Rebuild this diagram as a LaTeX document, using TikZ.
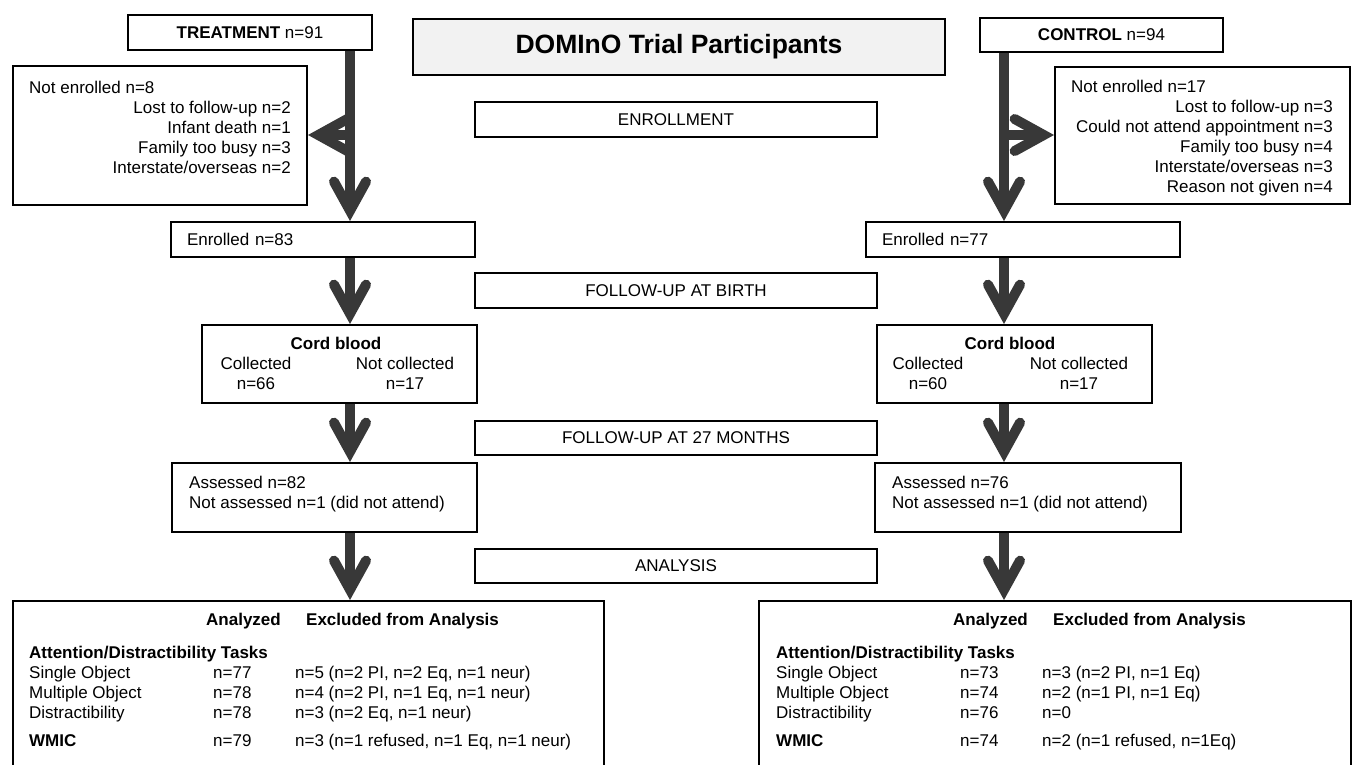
\documentclass[tikz,border=0pt]{standalone}
\usepackage{fontspec}
\setmainfont{Liberation Sans}
\usetikzlibrary{arrows.meta}
\definecolor{flowgray}{HTML}{383838}
\definecolor{titlefill}{HTML}{F2F2F2}
\tikzset{
    box/.style={draw=black, line width=2pt, inner sep=0pt, fill=white},
    txt/.style={inner sep=0pt},
    boldtxt/.style={inner sep=0pt, font=\fontsize{17}{20}\selectfont\bfseries},
    flow/.style={draw=flowgray, line width=10pt, -{Straight Barb[length=29pt, width=32pt, line cap=round, line join=miter]}},
}

\begin{document}
\begin{tikzpicture}[x=1pt, y=-1pt, every node/.style={font=\fontsize{17}{20}\selectfont}]
    \useasboundingbox (0,0) rectangle (1355,764);
    \clip (0,0) rectangle (1355,764);

    \node[box, minimum width=244pt, minimum height=35pt] (treat) at (250,32.5) {\textbf{TREATMENT} n=91};
    \node[box, fill=titlefill, minimum width=532pt, minimum height=56pt, font=\fontsize{26.5}{30}\selectfont\bfseries] (title) at (679,47) {DOMInO Trial Participants};
    \node[box, minimum width=243pt, minimum height=34pt] (ctrl) at (1101.5,35) {\textbf{CONTROL} n=94};

    \node[box, minimum width=294pt, minimum height=139pt] (neL) at (160,135.5) {};
    \node[box, minimum width=295pt, minimum height=137pt] (neR) at (1202.5,135.5) {};
    \node[txt, anchor=base west] (neLhd) at (29,93) {Not enrolled n=8};
    \node[txt, anchor=north east, align=right] (neLrs) at (291,100.5) {Lost to follow-up n=2\\Infant death n=1\\Family too busy n=3\\Interstate/overseas n=2};
    \node[txt, anchor=base west] (neRhd) at (1071,92) {Not enrolled n=17};
    \node[txt, anchor=north east, align=right] (neRrs) at (1333,99.5) {Lost to follow-up n=3\\Could not attend appointment n=3\\Family too busy n=4\\Interstate/overseas n=3\\Reason not given n=4};

    \node[box, minimum width=402pt, minimum height=35pt] (enroll) at (676,119.5) {ENROLLMENT};
    \node[box, minimum width=402pt, minimum height=35pt] (birth) at (676,290.5) {FOLLOW-UP AT BIRTH};
    \node[box, minimum width=402pt, minimum height=34pt] (month) at (676,437.5) {FOLLOW-UP AT 27 MONTHS};
    \node[box, minimum width=402pt, minimum height=34pt] (analysis) at (676,566) {ANALYSIS};

    \node[box, minimum width=304pt, minimum height=35pt, text width=272pt, align=left] (enrL) at (323,239.5) {Enrolled n=83};
    \node[box, minimum width=314pt, minimum height=35pt, text width=282pt, align=left] (enrR) at (1023,239.5) {Enrolled n=77};

    \node[box, minimum width=275pt, minimum height=78pt] (cordL) at (339.5,364) {};
    \node[boldtxt, anchor=base] (cordLhd) at (336,349) {Cord blood};
    \node[txt, anchor=north, align=center] (cordLa) at (256,356.5) {Collected\\n=66};
    \node[txt, anchor=north, align=center] (cordLb) at (405,356.5) {Not collected\\n=17};
    \node[box, minimum width=275pt, minimum height=78pt] (cordR) at (1014.5,364) {};
    \node[boldtxt, anchor=base] (cordRhd) at (1010,349) {Cord blood};
    \node[txt, anchor=north, align=center] (cordRa) at (928,356.5) {Collected\\n=60};
    \node[txt, anchor=north, align=center] (cordRb) at (1079,356.5) {Not collected\\n=17};

    \node[box, minimum width=305pt, minimum height=69pt] (assL) at (324.5,497.5) {};
    \node[txt, anchor=north west, align=left] (assLt) at (189,475.5) {Assessed n=82\\Not assessed n=1 (did not attend)};
    \node[box, minimum width=306pt, minimum height=69pt] (assR) at (1028,497.5) {};
    \node[txt, anchor=north west, align=left] (assRt) at (892,475.5) {Assessed n=76\\Not assessed n=1 (did not attend)};

    \node[box, anchor=north west, minimum width=591pt, minimum height=220pt] (anaL) at (12,600) {};
    \node[boldtxt, anchor=base west] (hdLa) at (206,625) {Analyzed};
    \node[boldtxt, anchor=base west] (hdLb) at (306,625) {Excluded from Analysis};
    \node[txt, anchor=north west, align=left] (tskL) at (29,645.5) {\textbf{Attention/Distractibility Tasks}\\Single Object\\Multiple Object\\Distractibility\\[8pt]\textbf{WMIC}};
    \node[txt, anchor=north west, align=left] (valL) at (213,666.8) {n=77\\n=78\\n=78\\[8pt]n=79};
    \node[txt, anchor=north west, align=left] (excL) at (295,665.5) {n=5 (n=2 PI, n=2 Eq, n=1 neur)\\n=4 (n=2 PI, n=1 Eq, n=1 neur)\\n=3 (n=2 Eq, n=1 neur)\\[8pt]n=3 (n=1 refused, n=1 Eq, n=1 neur)};

    \node[box, anchor=north west, minimum width=592pt, minimum height=220pt] (anaR) at (758,600) {};
    \node[boldtxt, anchor=base west] (hdRa) at (953,625) {Analyzed};
    \node[boldtxt, anchor=base west] (hdRb) at (1053,625) {Excluded from Analysis};
    \node[txt, anchor=north west, align=left] (tskR) at (776,645.5) {\textbf{Attention/Distractibility Tasks}\\Single Object\\Multiple Object\\Distractibility\\[8pt]\textbf{WMIC}};
    \node[txt, anchor=north west, align=left] (valR) at (960,666.8) {n=73\\n=74\\n=76\\[8pt]n=74};
    \node[txt, anchor=north west, align=left] (excR) at (1042,665.5) {n=3 (n=2 PI, n=1 Eq)\\n=2 (n=1 PI, n=1 Eq)\\n=0\\[8pt]n=2 (n=1 refused, n=1Eq)};

    \coordinate (colL) at (350,135);
    \coordinate (colR) at (1004,135);
    \draw[flow] (treat.south -| colL) -- (enrL.north -| colL);
    \draw[flow] (colL) -- (colL -| neL.east);
    \draw[flow] (enrL.south -| colL) -- (cordL.north -| colL);
    \draw[flow] (cordL.south -| colL) -- (assL.north -| colL);
    \draw[flow] (assL.south -| colL) -- (anaL.north -| colL);
    \draw[flow] (ctrl.south -| colR) -- (enrR.north -| colR);
    \draw[flow] (colR) -- (colR -| neR.west);
    \draw[flow] (enrR.south -| colR) -- (cordR.north -| colR);
    \draw[flow] (cordR.south -| colR) -- (assR.north -| colR);
    \draw[flow] (assR.south -| colR) -- (anaR.north -| colR);
\end{tikzpicture}
\end{document}
